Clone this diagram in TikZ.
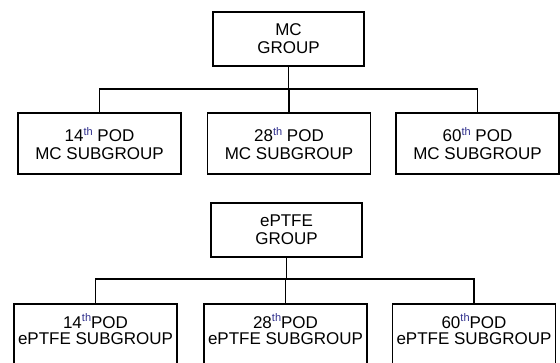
\documentclass[tikz,border=0pt]{standalone}
\usepackage{fontspec}
\setmainfont{Liberation Sans}
\usetikzlibrary{positioning}
\definecolor{ordblue}{HTML}{2E2E8C}
\newcommand{\ordth}{\raisebox{6.5pt}{\fontsize{11}{11}\selectfont\color{ordblue}th}}

\begin{document}
\begin{tikzpicture}[x=1pt, y=-1pt, line width=1.9pt,
    font=\fontsize{17}{18}\selectfont,
    g/.style={draw, align=center, minimum width=151pt, minimum height=54pt},
    s/.style={draw, align=center, minimum width=163pt, minimum height=61pt},
    sc/.style={draw, align=center, minimum width=163pt, anchor=north, inner ysep=10pt,
               text depth=20pt, font=\fontsize{17}{16}\selectfont}]
  \useasboundingbox (0,0) rectangle (560,363);
  \clip (0,0) rectangle (560,363);

  \node[g] (mc)  at (288.5,39)   {MC\\GROUP};
  \node[s] (m14) at (99.5,143.5) {14\ordth{} POD\\MC SUBGROUP};
  \node[s] (m28) at (289,143.5)  {28\ordth{} POD\\MC SUBGROUP};
  \node[s] (m60) at (477.5,143.5) {60\ordth{} POD\\MC SUBGROUP};

  \node[g]  (ep)  at (286.5,230) {ePTFE\\GROUP};
  \node[sc] (e14) at (95.5,303)  {14\ordth POD\\ePTFE SUBGROUP};
  \node[sc] (e28) at (285.5,303) {28\ordth POD\\ePTFE SUBGROUP};
  \node[sc] (e60) at (474,303)   {60\ordth POD\\ePTFE SUBGROUP};

  \foreach \c in {m14,m28,m60} \draw (mc.south) -- ++(0,22) -| (\c.north);
  \foreach \c in {e14,e28,e60} \draw (ep.south) -- ++(0,21) -| (\c.north);
\end{tikzpicture}
\end{document}
